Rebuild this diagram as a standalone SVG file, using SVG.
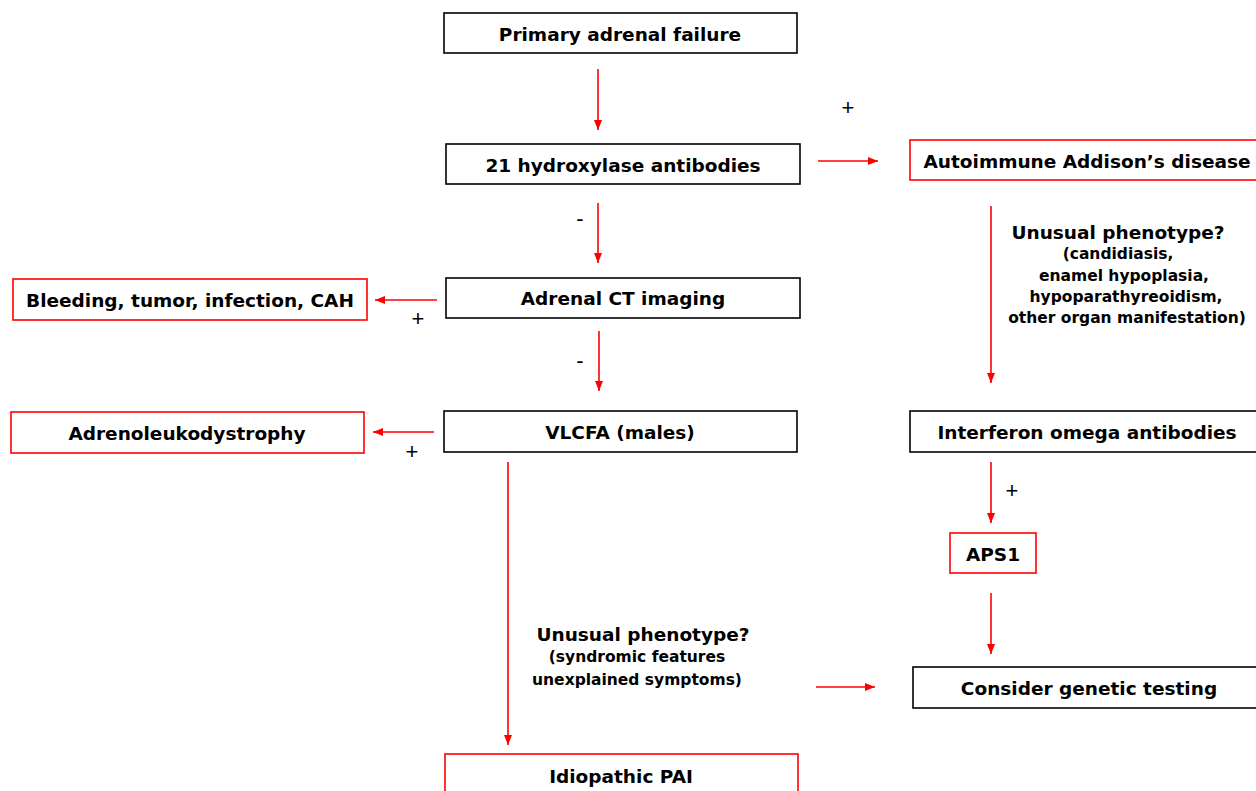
<svg xmlns="http://www.w3.org/2000/svg" width="1256" height="791" viewBox="0 0 1256 791">
<style>
.bk{fill:#fff;stroke:#000;stroke-width:1.6}
.rd{fill:#fff;stroke:#f00;stroke-width:1.6}
.t{font-family:"DejaVu Sans","Liberation Sans",sans-serif;font-weight:bold;font-size:18.5px;fill:#000;text-anchor:middle;dominant-baseline:central}
.s{font-size:15.5px}
.h{font-size:18.5px}
.p{font-family:"Liberation Sans",Arial,sans-serif;font-size:22px;fill:#000;text-anchor:middle;dominant-baseline:central}
.c line{stroke:#f00;stroke-width:1.6;marker-end:url(#ah)}
</style>
<defs>
<marker id="ah" viewBox="0 0 10 10" refX="10" refY="5" markerWidth="10" markerHeight="10" markerUnits="userSpaceOnUse" orient="auto">
<path d="M0,1 L10,5 L0,9 Z" fill="#f00"/>
</marker>
</defs>
<g id="n-primary"><rect class="bk" x="444" y="13" width="353" height="40"/><text class="t" x="620" y="34">Primary adrenal failure</text></g>
<g id="n-21oh"><rect class="bk" x="446" y="144" width="354" height="40"/><text class="t" x="623" y="165">21 hydroxylase antibodies</text></g>
<g id="n-ct"><rect class="bk" x="446" y="278" width="354" height="40"/><text class="t" x="623" y="298">Adrenal CT imaging</text></g>
<g id="n-vlcfa"><rect class="bk" x="444" y="411" width="353" height="41"/><text class="t" x="620" y="432">VLCFA (males)</text></g>
<g id="n-idio"><rect class="rd" x="445" y="754" width="353" height="45"/><text class="t" x="621" y="776">Idiopathic PAI</text></g>
<g id="n-bleed"><rect class="rd" x="13" y="279" width="354" height="41"/><text class="t" x="190" y="300">Bleeding, tumor, infection, CAH</text></g>
<g id="n-ald"><rect class="rd" x="11" y="412" width="353" height="41"/><text class="t" x="187" y="433">Adrenoleukodystrophy</text></g>
<g id="n-aad"><rect class="rd" x="910" y="140" width="352" height="40"/><text class="t" x="1087" y="161">Autoimmune Addison’s disease</text></g>
<g id="n-ifn"><rect class="bk" x="910" y="411" width="352" height="41"/><text class="t" x="1087" y="432">Interferon omega antibodies</text></g>
<g id="n-aps1"><rect class="rd" x="950" y="533" width="86" height="40"/><text class="t" x="993" y="554">APS1</text></g>
<g id="n-gen"><rect class="bk" x="913" y="667" width="349" height="41"/><text class="t" x="1089" y="688">Consider genetic testing</text></g>
<g id="labels">
<text class="t h" x="1118" y="232">Unusual phenotype?</text>
<text class="t s" x="1118" y="254">(candidiasis,</text>
<text class="t s" x="1124" y="276">enamel hypoplasia,</text>
<text class="t s" x="1126" y="297">hypoparathyreoidism,</text>
<text class="t s" x="1127" y="318">other organ manifestation)</text>
<text class="t h" x="643" y="634">Unusual phenotype?</text>
<text class="t s" x="637" y="657">(syndromic features</text>
<text class="t s" x="637" y="680">unexplained symptoms)</text>
<text class="p" x="848" y="107">+</text>
<text class="p" x="580" y="218">-</text>
<text class="p" x="580" y="360">-</text>
<text class="p" x="418" y="318">+</text>
<text class="p" x="412" y="451">+</text>
<text class="p" x="1012" y="490">+</text>
</g>
<g id="connectors" class="c">
<line x1="598" y1="69" x2="598" y2="130"/>
<line x1="598" y1="203" x2="598" y2="263"/>
<line x1="599" y1="331" x2="599" y2="391"/>
<line x1="818" y1="161" x2="878" y2="161"/>
<line x1="437" y1="300" x2="375" y2="300"/>
<line x1="434" y1="432" x2="373" y2="432"/>
<line x1="991" y1="206" x2="991" y2="383"/>
<line x1="991" y1="462" x2="991" y2="523"/>
<line x1="991" y1="593" x2="991" y2="654"/>
<line x1="508" y1="462" x2="508" y2="745"/>
<line x1="816" y1="687" x2="875" y2="687"/>
</g>
</svg>
